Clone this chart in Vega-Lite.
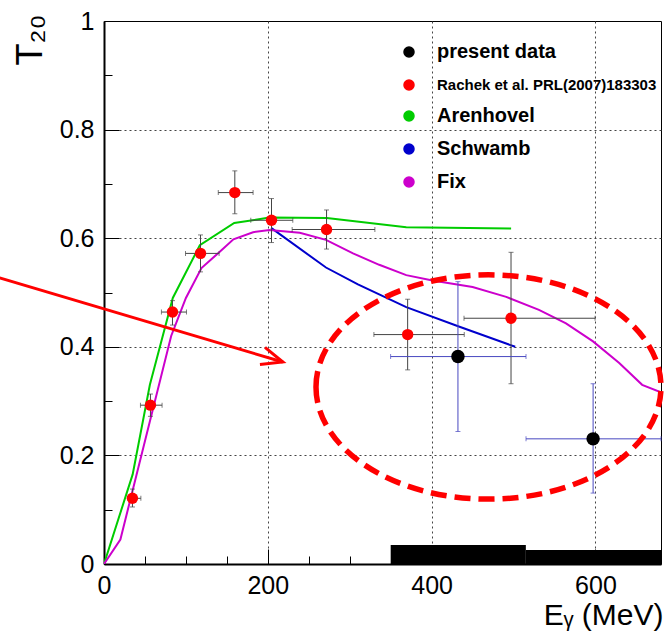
{
  "$schema": "https://vega.github.io/schema/vega-lite/v6.json",
  "width": 557,
  "height": 543,
  "autosize": "none",
  "padding": {"left": 104, "top": 21, "right": 5, "bottom": 69},
  "background": "white",
  "config": {
    "view": {"stroke": "black", "strokeWidth": 1},
    "font": "Liberation Sans"
  },
  "datasets": {
    "pts": [
      {"series": "Rachek et al. PRL(2007)183303", "x": 34.7, "y": 0.121, "xlo": 29, "xhi": 45, "ylo": 0.105, "yhi": 0.138},
      {"series": "Rachek et al. PRL(2007)183303", "x": 56.7, "y": 0.2925, "xlo": 44.5, "xhi": 70.9, "ylo": 0.272, "yhi": 0.313},
      {"series": "Rachek et al. PRL(2007)183303", "x": 83.6, "y": 0.464, "xlo": 70.1, "xhi": 100.7, "ylo": 0.44, "yhi": 0.485},
      {"series": "Rachek et al. PRL(2007)183303", "x": 117.8, "y": 0.572, "xlo": 99.5, "xhi": 140.5, "ylo": 0.538, "yhi": 0.606},
      {"series": "Rachek et al. PRL(2007)183303", "x": 159.7, "y": 0.684, "xlo": 139.5, "xhi": 182, "ylo": 0.645, "yhi": 0.724},
      {"series": "Rachek et al. PRL(2007)183303", "x": 204.5, "y": 0.633, "xlo": 179.2, "xhi": 230.5, "ylo": 0.592, "yhi": 0.673},
      {"series": "Rachek et al. PRL(2007)183303", "x": 271.7, "y": 0.616, "xlo": 229.7, "xhi": 330.7, "ylo": 0.58, "yhi": 0.652},
      {"series": "Rachek et al. PRL(2007)183303", "x": 370.7, "y": 0.4225, "xlo": 329.5, "xhi": 439.8, "ylo": 0.3575, "yhi": 0.4876},
      {"series": "Rachek et al. PRL(2007)183303", "x": 496.9, "y": 0.4526, "xlo": 439.5, "xhi": 599.5, "ylo": 0.332, "yhi": 0.574},
      {"series": "present data", "x": 432.1, "y": 0.382, "xlo": 349.9, "xhi": 515.2, "ylo": 0.244, "yhi": 0.52},
      {"series": "present data", "x": 597.1, "y": 0.2305, "xlo": 515.2, "xhi": 680, "ylo": 0.1306, "yhi": 0.332}
    ],
    "curves": [
      {"series": "Arenhovel", "x": 0, "y": 0},
      {"series": "Arenhovel", "x": 35, "y": 0.165},
      {"series": "Arenhovel", "x": 56, "y": 0.33},
      {"series": "Arenhovel", "x": 84, "y": 0.49},
      {"series": "Arenhovel", "x": 117, "y": 0.587},
      {"series": "Arenhovel", "x": 159, "y": 0.628},
      {"series": "Arenhovel", "x": 202, "y": 0.638},
      {"series": "Arenhovel", "x": 272, "y": 0.637},
      {"series": "Arenhovel", "x": 369, "y": 0.62},
      {"series": "Arenhovel", "x": 497, "y": 0.618},
      {"series": "Schwamb", "x": 204, "y": 0.619},
      {"series": "Schwamb", "x": 271, "y": 0.546},
      {"series": "Schwamb", "x": 310, "y": 0.515},
      {"series": "Schwamb", "x": 369, "y": 0.473},
      {"series": "Schwamb", "x": 434, "y": 0.437},
      {"series": "Schwamb", "x": 502, "y": 0.4},
      {"series": "Fix", "x": 0, "y": 0},
      {"series": "Fix", "x": 20, "y": 0.045},
      {"series": "Fix", "x": 82, "y": 0.42},
      {"series": "Fix", "x": 100, "y": 0.49},
      {"series": "Fix", "x": 119, "y": 0.545},
      {"series": "Fix", "x": 139, "y": 0.572},
      {"series": "Fix", "x": 158, "y": 0.598},
      {"series": "Fix", "x": 182, "y": 0.611},
      {"series": "Fix", "x": 202, "y": 0.615},
      {"series": "Fix", "x": 239, "y": 0.61},
      {"series": "Fix", "x": 271, "y": 0.597},
      {"series": "Fix", "x": 304, "y": 0.572},
      {"series": "Fix", "x": 336, "y": 0.551},
      {"series": "Fix", "x": 369, "y": 0.532},
      {"series": "Fix", "x": 401, "y": 0.522},
      {"series": "Fix", "x": 450, "y": 0.51},
      {"series": "Fix", "x": 491, "y": 0.492},
      {"series": "Fix", "x": 531, "y": 0.468},
      {"series": "Fix", "x": 564, "y": 0.443},
      {"series": "Fix", "x": 597, "y": 0.41},
      {"series": "Fix", "x": 629, "y": 0.37},
      {"series": "Fix", "x": 657, "y": 0.33},
      {"series": "Fix", "x": 680, "y": 0.316}
    ],
    "syst": [
      {"xlo": 350, "xhi": 515, "h": 0.035},
      {"xlo": 515, "xhi": 680, "h": 0.026}
    ],
    "arrow": [
      {"x": -127.4, "y": 0.527},
      {"x": 218.3, "y": 0.372}
    ],
    "head": [{"x": 218.3, "y": 0.372}],
    "ellipse": [{"x": 469.4, "y": 0.326}]
  },
  "layer": [
    {
      "data": {"name": "syst"},
      "mark": {"type": "rect", "color": "black", "clip": true},
      "encoding": {
        "x": {
          "field": "xlo", "type": "quantitative", "title": "Eᵧ (MeV)",
          "scale": {"domain": [0, 680], "nice": false, "zero": false},
          "axis": {
            "title": "Eᵧ (MeV)",
            "values": [0, 50, 100, 150, 200, 250, 300, 350, 400, 450, 500, 550, 600, 650],
            "labelExpr": "datum.value % 200 === 0 ? datum.label : ''",
            "labelFont": "Liberation Sans", "labelFontSize": 25, "labelColor": "black",
            "labelPadding": 24, "labelFlush": false, "labelOverlap": false, "labelBound": false,
            "tickSize": {"condition": {"test": "datum.value % 200 === 0", "value": -15}, "value": -8},
            "tickColor": "black", "tickWidth": 1,
            "domainColor": "black", "domainWidth": 2,
            "grid": true, "gridColor": "#444", "gridDash": [2, 3], "gridWidth": 1,
            "gridOpacity": {"condition": {"test": "datum.value % 200 === 0 && datum.value > 0", "value": 1}, "value": 0},
            "titleFont": "Liberation Sans", "titleFontSize": 30, "titleFontWeight": "normal", "titleColor": "black",
            "titleAlign": "right", "titleBaseline": "alphabetic", "titleAnchor": "end", "titleX": 559, "titleY": 60
          }
        },
        "x2": {"field": "xhi", "title": "Eᵧ (MeV)"},
        "y": {
          "field": "h", "type": "quantitative", "title": "T₂₀",
          "scale": {"domain": [0, 1], "nice": false, "zero": false},
          "axis": {
            "title": "T₂₀",
            "values": [0, 0.05, 0.1, 0.15, 0.2, 0.25, 0.3, 0.35, 0.4, 0.45, 0.5, 0.55, 0.6, 0.65, 0.7, 0.75, 0.8, 0.85, 0.9, 0.95, 1],
            "labelExpr": "abs(datum.value*5 - round(datum.value*5)) < 0.001 ? format(datum.value, '~g') : ''",
            "labelFont": "Liberation Sans", "labelFontSize": 25, "labelColor": "black",
            "labelPadding": 25, "labelFlush": false, "labelOverlap": false, "labelBound": false,
            "tickSize": {"condition": {"test": "abs(datum.value*5 - round(datum.value*5)) < 0.001", "value": -15}, "value": -8},
            "tickColor": "black", "tickWidth": 1,
            "domainColor": "black", "domainWidth": 2,
            "grid": true, "gridColor": "#444", "gridDash": [2, 3], "gridWidth": 1,
            "gridOpacity": {"condition": {"test": "abs(datum.value*5 - round(datum.value*5)) < 0.001 && datum.value > 0.01 && datum.value < 0.99", "value": 1}, "value": 0},
            "titleFont": "Liberation Sans", "titleFontSize": 36, "titleFontWeight": "normal", "titleColor": "black",
            "titleAngle": -90, "titleAlign": "left", "titleBaseline": "alphabetic", "titleX": -63, "titleY": 44
          }
        },
        "y2": {"datum": 0}
      }
    },
    {
      "data": {"name": "curves"},
      "mark": {"type": "line", "strokeWidth": 2, "clip": true},
      "encoding": {
        "x": {"field": "x", "type": "quantitative", "title": "Eᵧ (MeV)"},
        "y": {"field": "y", "type": "quantitative", "title": "T₂₀"},
        "color": {
          "field": "series", "type": "nominal",
          "scale": {
            "domain": ["present data", "Rachek et al. PRL(2007)183303", "Arenhovel", "Schwamb", "Fix"],
            "range": ["#000000", "#ff0000", "#00cc00", "#0000cc", "#cc00cc"]
          }
        },
        "detail": {"field": "series"}
      }
    },
    {
      "data": {"name": "pts"},
      "transform": [{"filter": "datum.series !== 'present data'"}],
      "mark": {"type": "errorbar", "color": "#444", "thickness": 1, "ticks": {"size": 5, "thickness": 1}},
      "encoding": {
        "x": {"field": "xlo", "type": "quantitative", "title": "Eᵧ (MeV)"},
        "x2": {"field": "xhi", "title": "Eᵧ (MeV)"},
        "y": {"field": "y", "type": "quantitative", "title": "T₂₀"}
      }
    },
    {
      "data": {"name": "pts"},
      "transform": [{"filter": "datum.series !== 'present data'"}],
      "mark": {"type": "errorbar", "color": "#444", "thickness": 1, "ticks": {"size": 5, "thickness": 1}},
      "encoding": {
        "y": {"field": "ylo", "type": "quantitative", "title": "T₂₀"},
        "y2": {"field": "yhi", "title": "T₂₀"},
        "x": {"field": "x", "type": "quantitative", "title": "Eᵧ (MeV)"}
      }
    },
    {
      "data": {"name": "pts"},
      "transform": [{"filter": "datum.series === 'present data'"}],
      "mark": {"type": "errorbar", "color": "#4848c0", "thickness": 1, "ticks": {"size": 5, "thickness": 1}},
      "encoding": {
        "x": {"field": "xlo", "type": "quantitative", "title": "Eᵧ (MeV)"},
        "x2": {"field": "xhi", "title": "Eᵧ (MeV)"},
        "y": {"field": "y", "type": "quantitative", "title": "T₂₀"}
      }
    },
    {
      "data": {"name": "pts"},
      "transform": [{"filter": "datum.series === 'present data'"}],
      "mark": {"type": "errorbar", "color": "#4848c0", "thickness": 1, "ticks": {"size": 5, "thickness": 1}},
      "encoding": {
        "y": {"field": "ylo", "type": "quantitative", "title": "T₂₀"},
        "y2": {"field": "yhi", "title": "T₂₀"},
        "x": {"field": "x", "type": "quantitative", "title": "Eᵧ (MeV)"}
      }
    },
    {
      "data": {"name": "pts"},
      "mark": {"type": "point", "filled": true, "opacity": 1, "shape": "circle"},
      "encoding": {
        "x": {"field": "x", "type": "quantitative", "title": "Eᵧ (MeV)"},
        "y": {"field": "y", "type": "quantitative", "title": "T₂₀"},
        "size": {"condition": {"test": "datum.series === 'present data'", "value": 180}, "value": 130},
        "color": {
          "field": "series", "type": "nominal",
          "legend": {
            "title": null,
            "orient": "none",
            "legendX": 295,
            "legendY": 21,
            "padding": 0,
            "rowPadding": 13,
            "labelFont": "Liberation Sans",
            "labelFontWeight": "bold",
            "labelFontSize": {"expr": "datum.value === 'Rachek et al. PRL(2007)183303' ? 15 : 20"},
            "labelColor": "black",
            "labelLimit": 0,
            "labelOffset": 18,
            "encode": {
              "symbols": {
                "shape": {"condition": {"test": "datum.value === 'Arenhovel' || datum.value === 'Schwamb' || datum.value === 'Fix'", "value": "stroke"}, "value": "circle"},
                "size": {"condition": {"test": "datum.value === 'Rachek et al. PRL(2007)183303'", "value": 90}, "value": 200},
                "stroke": {"condition": [
                  {"test": "datum.value === 'Arenhovel'", "value": "#00cc00"},
                  {"test": "datum.value === 'Schwamb'", "value": "#0000cc"},
                  {"test": "datum.value === 'Fix'", "value": "#cc00cc"}
                ], "value": "transparent"},
                "strokeWidth": {"value": 3},
                "opacity": {"value": 1}
              }
            }
          }
        }
      }
    },
    {
      "data": {"name": "arrow"},
      "mark": {"type": "line", "color": "#ff0000", "strokeWidth": 3, "clip": false},
      "encoding": {
        "x": {"field": "x", "type": "quantitative", "title": "Eᵧ (MeV)"},
        "y": {"field": "y", "type": "quantitative", "title": "T₂₀"}
      }
    },
    {
      "data": {"name": "head"},
      "mark": {"type": "point", "shape": "M -1 -0.42 L 0 0 L -1 0.42", "filled": false, "stroke": "#ff0000", "strokeWidth": 3, "size": 1800, "angle": 16.5, "opacity": 1, "clip": false},
      "encoding": {
        "x": {"field": "x", "type": "quantitative", "title": "Eᵧ (MeV)"},
        "y": {"field": "y", "type": "quantitative", "title": "T₂₀"}
      }
    },
    {
      "data": {"name": "ellipse"},
      "mark": {"type": "point", "shape": "M -1 0 C -1 -0.359 -0.552 -0.65 0 -0.65 C 0.552 -0.65 1 -0.359 1 0 C 1 0.359 0.552 0.65 0 0.65 C -0.552 0.65 -1 0.359 -1 0 Z", "filled": false, "stroke": "#ff0000", "strokeWidth": 5.5, "strokeDash": [16, 8], "size": 119025, "opacity": 1, "clip": false},
      "encoding": {
        "x": {"field": "x", "type": "quantitative", "title": "Eᵧ (MeV)"},
        "y": {"field": "y", "type": "quantitative", "title": "T₂₀"}
      }
    }
  ]
}
